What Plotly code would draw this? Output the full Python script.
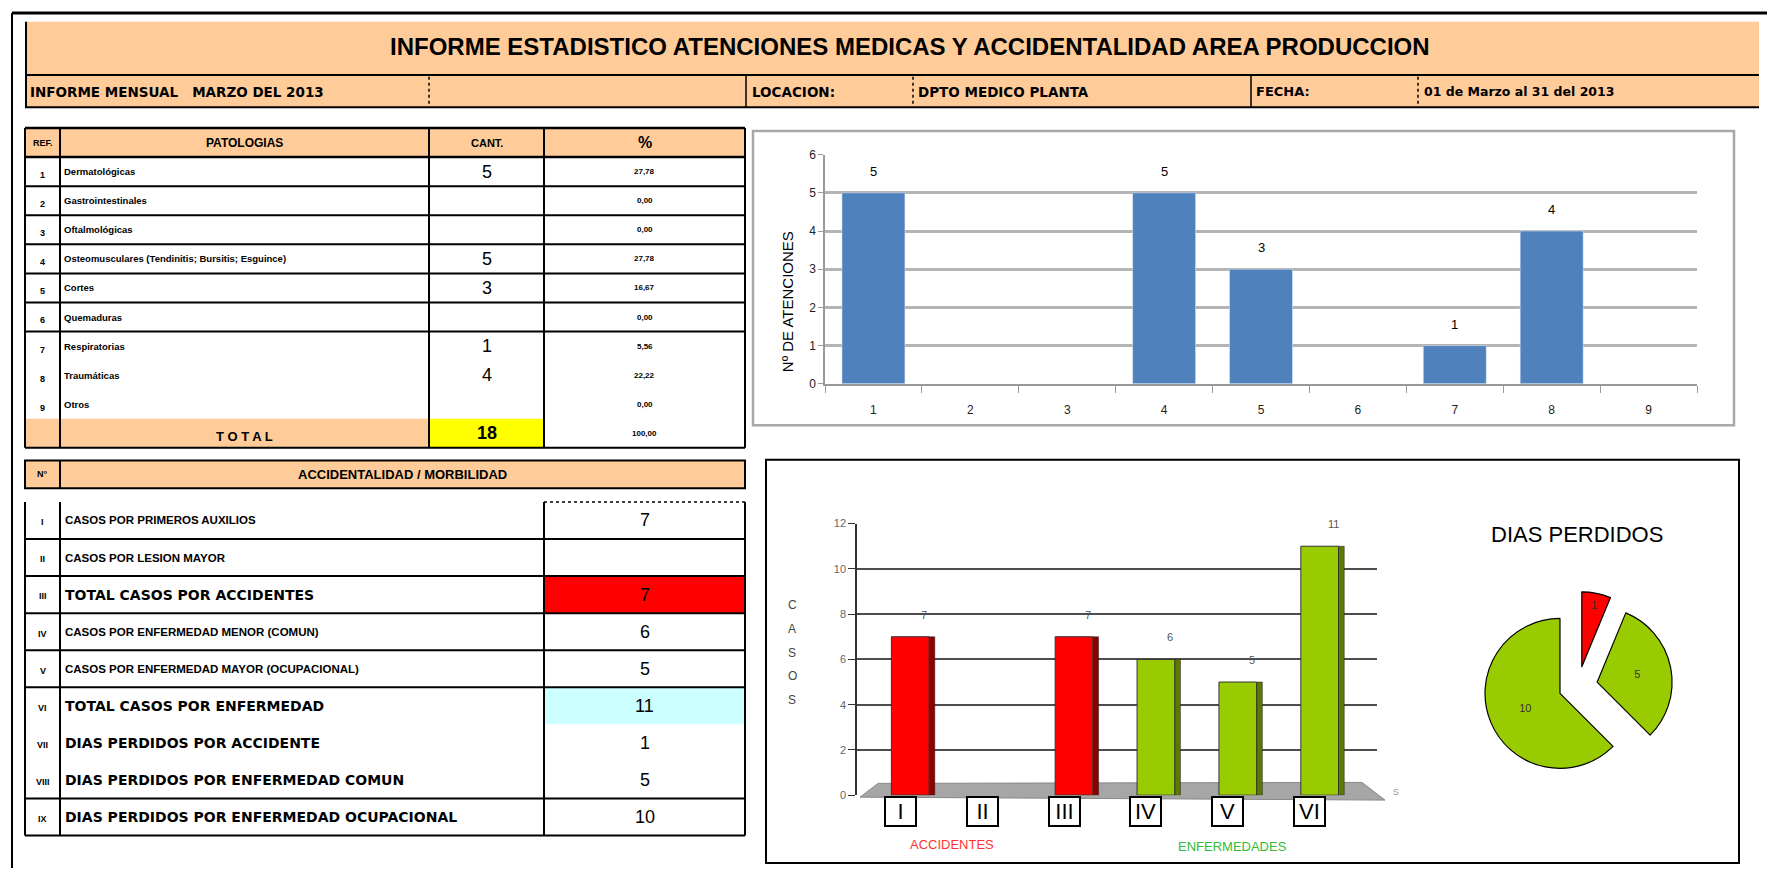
import plotly.graph_objects as go

W, H = 1767, 875
NARROW = "Liberation Sans Narrow, Arial Narrow, Liberation Sans, Arial, sans-serif"
SANS = "Liberation Sans, Arial, sans-serif"
WIDE = "DejaVu Sans, Verdana, sans-serif"
ORANGE = "#FFCC99"

# ---------------- data ----------------
titulo = "INFORME ESTADISTICO ATENCIONES MEDICAS Y ACCIDENTALIDAD AREA PRODUCCION"
informe = "INFORME MENSUAL   MARZO DEL 2013"
locacion_lbl = "LOCACION:"
locacion = "DPTO MEDICO PLANTA"
fecha_lbl = "FECHA:"
fecha = "01 de Marzo al 31 del 2013"

ref_num = [1, 2, 3, 4, 5, 6, 7, 8, 9]
patologias = ["Dermatológicas", "Gastrointestinales", "Oftalmológicas",
              "Osteomusculares (Tendinitis; Bursitis; Esguince)", "Cortes",
              "Quemaduras", "Respiratorias", "Traumáticas", "Otros"]
cantidad = [5, None, None, 5, 3, None, 1, 4, None]
porcentaje = [27.78, 0.00, 0.00, 27.78, 16.67, 0.00, 5.56, 22.22, 0.00]
total_cantidad = 18
total_porcentaje = 100.00

acc_num = ["I", "II", "III", "IV", "V", "VI", "VII", "VIII", "IX"]
acc_desc = ["CASOS POR PRIMEROS AUXILIOS", "CASOS POR LESION MAYOR",
            "TOTAL CASOS POR ACCIDENTES", "CASOS POR ENFERMEDAD MENOR (COMUN)",
            "CASOS POR ENFERMEDAD MAYOR (OCUPACIONAL)", "TOTAL CASOS POR ENFERMEDAD",
            "DIAS PERDIDOS POR ACCIDENTE", "DIAS PERDIDOS POR ENFERMEDAD COMUN",
            "DIAS PERDIDOS POR ENFERMEDAD OCUPACIONAL"]
acc_val = [7, None, 7, 6, 5, 11, 1, 5, 10]
acc_big = [False, False, True, False, False, True, True, True, True]

casos_cat = acc_num[:6]
casos_val = acc_val[:6]
casos_color = ["#FF0000", "#FF0000", "#FF0000", "#99CC00", "#99CC00", "#99CC00"]
side_color = {"#FF0000": "#8E0000", "#99CC00": "#5C7A00"}

dias_labels = acc_desc[6:]
dias_values = acc_val[6:]
dias_colors = ["#FF0000", "#99CC00", "#99CC00"]

# ---------------- helpers ----------------
def px(x):
    return x / W

def py(y):
    return 1 - y / H

shapes, annots = [], []

def add_rect(x0, y0, x1, y1, fill="rgba(0,0,0,0)", color=None, width=0, layer="below"):
    shapes.append(dict(type="rect", xref="paper", yref="paper",
                       x0=px(x0), x1=px(x1), y0=py(y1), y1=py(y0),
                       fillcolor=fill, layer=layer,
                       line=dict(color=color or "rgba(0,0,0,0)", width=width)))

def add_line(x0, y0, x1, y1, color="black", width=2, dash="solid"):
    shapes.append(dict(type="line", xref="paper", yref="paper",
                       x0=px(x0), x1=px(x1), y0=py(y0), y1=py(y1),
                       line=dict(color=color, width=width, dash=dash)))

def add_text(x, y, s, size, family=SANS, color="black", weight="normal",
             xanchor="center", yanchor="middle", **kw):
    annots.append(dict(x=px(x), y=py(y), xref="paper", yref="paper", text=s,
                       showarrow=False, xanchor=xanchor, yanchor=yanchor,
                       font=dict(size=size, family=family, color=color, weight=weight), **kw))

# ---------------- outer frame & header band ----------------
add_line(12, 6, 1767, 6, width=3)
add_line(12, 6, 12, 875, width=2)
add_rect(25, 15, 1759, 102, fill=ORANGE)
add_line(26, 15, 26, 102, width=2)
add_line(25, 69, 1759, 69, width=2)
add_line(25, 102, 1759, 102, width=2)
add_text(910, 40, titulo, 24, family=NARROW, weight="bold")

for xd in (429, 913, 1418):
    add_line(xd, 71, xd, 100, width=1.5, dash="dot")
for xs in (746, 1251):
    add_line(xs, 69, xs, 102, width=1.5)
add_text(28, 86, informe, 13.5, family=WIDE, weight="bold", xanchor="left")
add_text(750, 86, locacion_lbl, 13.5, family=WIDE, weight="bold", xanchor="left")
add_text(916, 86, locacion, 13.5, family=WIDE, weight="bold", xanchor="left")
add_text(1254, 86, fecha_lbl, 13, family=WIDE, weight="bold", xanchor="left")
add_text(1422, 86, fecha, 12.5, family=WIDE, weight="bold", xanchor="left")

# ---------------- top table (patologias) ----------------
TT_TOP, TT_BOT = 123, 448
TT_RH = (TT_BOT - TT_TOP) / 11
tc = [25, 60, 429, 544, 745]

def ty(i):
    return TT_TOP + i * TT_RH

def ccx(cols, j):
    return (cols[j] + cols[j + 1]) / 2

add_rect(tc[0], ty(0), tc[4], ty(1), fill=ORANGE)
add_rect(tc[0], ty(10), tc[2], ty(11), fill=ORANGE)
add_rect(tc[2], ty(10), tc[3], ty(11), fill="#FFFF00")
for i in (0, 1, 2, 3, 4, 5, 6, 7, 11):
    add_line(tc[0], ty(i), tc[4], ty(i), width=2.5 if i in (0, 1) else 2)
for c in tc:
    add_line(c, ty(0), c, ty(11), width=2)

add_text(ccx(tc, 0), ty(0.5), "REF.", 9, weight="bold")
add_text(ccx(tc, 1), ty(0.5), "PATOLOGIAS", 12, weight="bold")
add_text(ccx(tc, 2), ty(0.5), "CANT.", 11, weight="bold")
add_text(ccx(tc, 3), ty(0.5), "%", 16, weight="bold")
for i in range(9):
    r = i + 1
    add_text(ccx(tc, 0), ty(r + 0.62), str(ref_num[i]), 9, weight="bold")
    add_text(tc[1] + 2, ty(r + 0.5), patologias[i], 9.5, weight="bold", xanchor="left")
    if cantidad[i] is not None:
        add_text(ccx(tc, 2), ty(r + 0.5), str(cantidad[i]), 18, family=NARROW)
    add_text(ccx(tc, 3), ty(r + 0.5), f"{porcentaje[i]:.2f}".replace(".", ","), 8, weight="bold")
add_text(ccx(tc, 1), ty(10.62), "T O T A L", 13, weight="bold")
add_text(ccx(tc, 2), ty(10.5), str(total_cantidad), 18, family=NARROW, weight="bold")
add_text(ccx(tc, 3), ty(10.5), f"{total_porcentaje:.2f}".replace(".", ","), 8, weight="bold")

# ---------------- bottom table (accidentalidad) ----------------
add_rect(25, 461, 745, 489, fill=ORANGE, color="black", width=2)
add_line(60, 461, 60, 489, width=2)
add_text(42.5, 475, "N°", 9, weight="bold")
add_text(402, 475, "ACCIDENTALIDAD / MORBILIDAD", 13, weight="bold")

BT_TOP, BT_BOT = 503, 842
BT_RH = (BT_BOT - BT_TOP) / 9
bc = [25, 60, 544, 745]

def by(i):
    return BT_TOP + i * BT_RH

add_rect(bc[2], by(2), bc[3], by(3), fill="#FF0000")
add_rect(bc[2], by(5), bc[3], by(6), fill="#CCFFFF")
for i in (1, 2, 3, 4, 5, 8, 9):
    add_line(bc[0], by(i), bc[3], by(i), width=2)
add_line(bc[2], by(0), bc[3], by(0), width=1.5, dash="dot")
for c in bc:
    add_line(c, by(0), c, by(9), width=2)
for i in range(9):
    add_text(ccx(bc, 0), by(i + 0.55), acc_num[i], 9, weight="bold")
    if acc_big[i]:
        add_text(bc[1] + 3, by(i + 0.5), acc_desc[i], 14, family=WIDE, weight="bold", xanchor="left")
    else:
        add_text(bc[1] + 3, by(i + 0.5), acc_desc[i], 11.5, weight="bold", xanchor="left")
    if acc_val[i] is not None:
        add_text(ccx(bc, 2), by(i + 0.5), str(acc_val[i]), 18, family=NARROW)

# ---------------- chart frames ----------------
add_rect(753, 126, 1734, 425, color="#A8A8A8", width=2.5)
add_rect(766, 460, 1739, 870, color="black", width=2)

# ---------------- top bar chart ----------------
fig = go.Figure()
fig.add_trace(go.Bar(x=ref_num, y=cantidad, marker_color="#4F81BD", width=0.65,
                     xaxis="x", yaxis="y", showlegend=False, hoverinfo="x+y"))
for k, v in zip(ref_num, cantidad):
    if v is not None:
        annots.append(dict(x=k, y=v, xref="x", yref="y", text=str(v), showarrow=False,
                           yanchor="bottom", yshift=12,
                           font=dict(size=13, family=NARROW, color="black")))
add_text(787, 300, "Nº DE ATENCIONES", 15, textangle=-90)

# ---------------- 3D-like bar chart ----------------
casos_x = list(range(len(casos_cat)))
fig.add_trace(go.Bar(x=casos_x, y=casos_val, width=0.07, offset=0.23,
                     marker=dict(color=[side_color[c] for c in casos_color],
                                 line=dict(color="#222", width=0.5)),
                     xaxis="x2", yaxis="y2", showlegend=False, hoverinfo="skip"))
fig.add_trace(go.Bar(x=casos_x, y=casos_val, width=0.46, offset=-0.23,
                     marker=dict(color=casos_color, line=dict(color="#333", width=1)),
                     xaxis="x2", yaxis="y2", showlegend=False, hoverinfo="y"))
shapes.append(dict(type="path", xref="paper", yref="paper", layer="below",
                   path=f"M {px(878)},{py(789)} L {px(1362)},{py(788)} L {px(1385)},{py(806)} L {px(860)},{py(803)} Z",
                   fillcolor="#A6A6A6", line=dict(color="#888", width=1)))
for xi, c in zip(casos_x, casos_cat):
    annots.append(dict(x=xi, y=py(802), xref="x2", yref="paper", text=c, showarrow=False,
                       yanchor="top", xshift=-10, width=27, height=25, align="center",
                       valign="middle",
                       font=dict(size=22, family=NARROW, color="black"),
                       bgcolor="white", bordercolor="black", borderwidth=2, borderpad=1))
for xi, v in zip(casos_x, casos_val):
    if v is not None:
        annots.append(dict(x=xi, y=v, xref="x2", yref="y2", text=str(v), showarrow=False,
                           yanchor="bottom", yshift=14, xshift=14,
                           font=dict(size=11, family=SANS, color="#555")))
for k, ch in enumerate("CASOS"):
    add_text(792, 608 + k * 24, ch, 12, color="#444")
add_text(952, 851, "ACCIDENTES", 13, color="#FF3333")
add_text(1232, 853, "ENFERMEDADES", 13, color="#33BB33")
add_text(1396, 798, "S", 9, color="#999")

# ---------------- pie ----------------
fig.add_trace(go.Pie(labels=dias_labels, values=dias_values, sort=False, direction="clockwise",
                     rotation=0, pull=[0.26, 0.26, 0.26],
                     marker=dict(colors=dias_colors, line=dict(color="black", width=1.2)),
                     textinfo="value", textposition="inside", insidetextorientation="horizontal",
                     textfont=dict(size=11, family=SANS, color="#333"),
                     domain=dict(x=[px(1578 - 96), px(1578 + 96)], y=[py(690 + 96), py(690 - 96)]),
                     showlegend=False, hoverinfo="label+value"))
add_text(1577, 536, "DIAS PERDIDOS", 22, family=NARROW)

fig.update_layout(
    width=W, height=H, autosize=False,
    margin=dict(l=0, r=0, t=0, b=0),
    paper_bgcolor="white", plot_bgcolor="rgba(0,0,0,0)",
    barmode="overlay",
    xaxis=dict(domain=[px(825), px(1697)], anchor="y", range=[0.5, 9.5],
               tickvals=ref_num, ticktext=[str(r) for r in ref_num], ticks="",
               showline=True, linecolor="#999", linewidth=1.5, showgrid=False, zeroline=False,
               minor=dict(ticks="outside", tick0=0.5, dtick=1, ticklen=7, tickcolor="#999"),
               tickfont=dict(size=12, family=NARROW, color="#222"), ticklabelstandoff=14),
    yaxis=dict(domain=[py(383), py(150)], anchor="x", range=[0, 6], dtick=1,
               showgrid=True, gridcolor="#B4B4B4", gridwidth=3, zeroline=False,
               showline=True, linecolor="#999", linewidth=1.5,
               ticks="outside", ticklen=5, tickcolor="#999",
               tickfont=dict(size=12, family=NARROW, color="#222")),
    xaxis2=dict(domain=[px(857), px(1377)], anchor="y2", range=[-0.65, 5.7],
                showticklabels=False, ticks="", showgrid=False, zeroline=False, showline=False),
    yaxis2=dict(domain=[py(801), py(525)], anchor="x2", range=[0, 12], dtick=2,
                showgrid=True, gridcolor="#4D4D4D", gridwidth=2, zeroline=False,
                showline=True, linecolor="#333", linewidth=1.5,
                ticks="outside", ticklen=7, tickcolor="#333",
                tickfont=dict(size=11, family=SANS, color="#666")),
    shapes=shapes, annotations=annots,
)

fig.write_html("out.html")
